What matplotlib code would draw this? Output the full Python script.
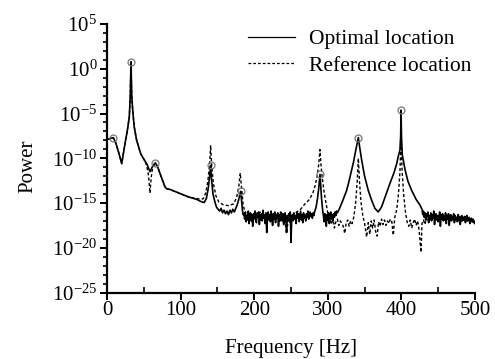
import numpy as np
import matplotlib
matplotlib.use("Agg")
import matplotlib.pyplot as plt
from matplotlib.ticker import FixedLocator, FuncFormatter, MultipleLocator, NullFormatter

plt.rcParams['font.family'] = ['Liberation Serif', 'DejaVu Serif']
plt.rcParams['mathtext.fontset'] = 'custom'
plt.rcParams['mathtext.rm'] = 'Liberation Serif'
plt.rcParams['mathtext.it'] = 'Liberation Serif'

# ---- Optimal location (solid) : frequency [Hz], log10(power) ----
opt_f_a = [0, 4, 8.6, 12, 16, 20, 24, 27.6, 30.3, 31.6, 32.6, 33.6, 34.9, 37, 40.3,
           45.8, 50, 53.9, 58.4, 62, 65.7, 69, 72, 78.8, 81, 86, 92, 98, 104, 110,
           116, 122, 128, 132, 135, 137.5, 139.5, 140.8, 142, 144, 147, 149, 151, 153,
           155, 157, 159, 161, 163, 165, 167, 169, 171, 173, 175, 177, 179, 180.6,
           181.6, 182.6, 184, 185]
opt_p_a = [-7.9, -7.8, -7.7, -8.3, -9.4, -10.6, -8.6, -6.9, -5.4, -3.0, 0.78, -3.0, -4.6,
           -6.5, -8.0, -9.5, -10.1, -10.6, -11.5, -10.9, -10.5, -11.0, -11.7, -13.2, -13.4,
           -13.5, -13.7, -13.9, -14.1, -14.3, -14.45, -14.6, -14.85, -14.95, -14.5, -13.4,
           -12.0, -10.8, -12.3, -14.0, -15.0, -15.5, -15.7, -15.9, -15.6, -16.1, -15.8,
           -16.2, -15.9, -16.3, -15.8, -16.1, -15.7, -16.0, -15.6, -15.2, -14.6, -14.0,
           -13.7, -14.5, -15.8, -16.3]
# noise floor 186..282 Hz (1 Hz steps)
opt_noise1 = [-16.2, -16.8, -16.0, -17.1, -16.4, -16.9, -15.9, -17.3, -16.5, -16.1,
              -17.0, -16.3, -17.6, -16.2, -16.7, -15.9, -16.8, -17.2, -16.1, -16.6,
              -16.0, -17.4, -16.3, -16.9, -16.2, -17.0, -15.8, -16.7, -16.4, -17.3,
              -16.1, -18.3, -16.5, -16.0, -16.9, -16.3, -17.1, -15.9, -16.6, -17.5,
              -16.2, -16.8, -16.0, -17.2, -16.4, -16.7, -16.1, -17.6, -16.3, -16.9,
              -16.0, -16.6, -17.0, -16.2, -17.4, -16.5, -16.1, -16.8, -18.3, -16.4,
              -16.9, -16.2, -17.1, -16.0, -19.4, -16.6, -16.3, -17.0, -16.1, -16.8,
              -16.4, -17.3, -16.0, -16.7, -16.2, -17.1, -16.5, -15.9, -16.9, -16.3,
              -17.2, -16.1, -16.7, -16.4, -17.0, -16.2, -16.6, -15.9, -16.8, -16.3,
              -16.0, -16.5, -16.2, -16.7, -16.1, -16.4, -16.0]
opt_f_b = [284, 286, 287.5, 288.7, 289.4, 290.2, 291.5, 293]
opt_p_b = [-15.5, -14.5, -13.5, -12.5, -11.8, -12.8, -14.5, -15.8]
# noise 294..313 Hz (1 Hz steps)
opt_noise2 = [-16.4, -17.1, -16.2, -16.8, -17.6, -16.3, -16.9, -16.1, -17.3, -16.5,
              -16.0, -16.8, -16.3, -17.0, -16.2, -16.6, -16.0, -16.4, -15.9, -16.1]
opt_f_c = [316, 320, 325.6, 329, 332.4, 335, 338, 340, 341.5, 343, 346, 350, 355, 360,
           364, 368.5, 373, 378, 384.5, 390, 393.6, 396, 398, 399, 399.5, 400.1, 401.2,
           405, 409, 414, 420, 425]
opt_p_c = [-15.6, -14.8, -13.6, -12.5, -11.3, -10.4, -9.1, -8.3, -7.69, -8.6, -10.2,
           -12.0, -13.6, -14.8, -15.6, -16.0, -15.45, -14.3, -12.8, -11.6, -10.6, -9.7,
           -9.1, -7.5, -4.63, -7.5, -9.6, -11.3, -12.6, -13.6, -14.6, -15.2]
# noise 428..500 Hz (1 Hz steps)
opt_noise3 = [-15.7, -16.3, -15.9, -16.6, -16.1, -16.9, -16.2, -16.5, -16.0, -17.2,
              -16.4, -16.8, -16.1, -17.0, -16.3, -16.7, -15.9, -17.4, -16.5, -16.2,
              -16.9, -16.4, -17.1, -16.6, -16.0, -17.6, -16.3, -16.8, -16.2, -17.0,
              -16.5, -16.9, -16.1, -17.3, -16.4, -16.7, -16.2, -17.5, -16.6, -16.3,
              -17.0, -16.5, -16.8, -16.2, -17.2, -16.4, -16.9, -16.6, -17.1, -16.3,
              -16.8, -16.5, -17.4, -16.7, -16.4, -17.0, -16.6, -16.9, -16.5, -17.2,
              -16.7, -16.4, -17.0, -16.8, -16.6, -17.3, -16.9, -16.7, -17.1, -16.8,
              -17.2, -17.0, -17.3]

# ---- Reference location (dashed) ----
ref_f_a = [0, 4, 8.6, 12, 16, 20, 24, 27.6, 30.3, 31.6, 32.6, 33.6, 34.9, 37, 40.3,
           45.8, 50, 53.9, 56.5, 58.4, 60, 62, 65.7, 69, 72, 78.8, 81, 86, 92, 98, 104,
           110, 116, 122, 128, 131, 134, 137, 139.5, 140.8, 142, 144.5, 148, 152, 158,
           165, 172, 176, 179, 181, 182.5, 185, 188]
ref_p_a = [-7.9, -7.8, -7.7, -8.3, -9.4, -10.6, -8.6, -6.9, -5.4, -3.0, 0.7, -3.0, -4.6,
           -6.5, -8.0, -9.5, -10.1, -10.8, -12.0, -13.9, -12.2, -11.0, -10.6, -11.0,
           -11.7, -13.2, -13.4, -13.5, -13.7, -13.9, -14.1, -14.3, -14.4, -14.5, -14.6,
           -14.5, -13.9, -12.6, -10.5, -8.55, -10.5, -12.8, -14.2, -14.9, -15.2, -15.3,
           -15.1, -14.4, -13.2, -11.65, -13.0, -15.2, -16.2]
ref_f_b = [190, 193, 196, 199, 202, 205, 208, 211, 214, 217, 220, 223, 226, 229, 232,
           235, 238, 241, 244, 247, 250, 254, 258, 262, 266, 270, 274, 277, 280, 283,
           285.5, 287.5, 289.4, 290.8, 292.5, 295, 298, 301]
ref_p_b = [-16.5, -16.1, -16.9, -16.3, -17.0, -16.4, -16.0, -16.8, -16.2, -17.1, -16.5,
           -16.3, -16.9, -16.1, -16.6, -17.2, -16.4, -16.7, -18.4, -16.3, -16.5, -16.2,
           -16.0, -15.8, -15.4, -15.0, -14.7, -14.3, -13.8, -13.0, -12.0, -10.8, -9.03,
           -10.8, -12.2, -13.8, -15.2, -16.6]
ref_f_c = [303, 305, 307, 309, 311, 313, 315, 317, 319, 321, 323, 325, 327, 329, 331,
           333, 335.5, 338, 340, 341.5, 343, 345, 347.5, 350, 352.8, 355, 357, 359, 361,
           363, 365, 367, 369, 371, 373, 375, 377, 379, 381, 383, 385, 387, 389, 391]
ref_p_c = [-16.9, -17.4, -16.6, -17.8, -17.1, -16.8, -17.5, -17.0, -17.3, -17.6, -18.4,
           -17.2, -16.9, -17.6, -17.0, -17.3, -16.5, -14.8, -12.5, -10.0, -12.5, -14.8,
           -16.4, -17.3, -18.8, -17.2, -18.5, -17.0, -17.8, -16.9, -18.2, -18.7, -17.1,
           -17.6, -16.8, -17.4, -16.9, -17.5, -17.0, -17.3, -16.8, -17.1, -18.6, -16.6]
ref_f_d = [393.5, 396, 398, 399.5, 401, 403, 405.5, 408, 410, 412, 414, 416, 418, 420,
           422, 424, 426.6, 428, 430, 432, 434, 436, 438, 440, 443, 446, 449, 452, 455,
           458, 461, 464, 467, 470, 473, 476, 479, 482, 485, 488, 491, 494, 497, 500]
ref_p_d = [-15.8, -14.0, -11.5, -8.0, -11.5, -14.0, -16.0, -17.2, -17.6, -16.9, -17.8,
           -17.2, -16.8, -17.5, -17.0, -18.0, -20.5, -17.3, -16.9, -17.4, -16.7, -17.1,
           -16.6, -16.9, -16.5, -16.8, -16.3, -17.0, -16.5, -16.9, -16.4, -17.1, -16.6,
           -16.9, -16.7, -17.1, -16.8, -17.0, -16.7, -17.2, -16.9, -17.1, -17.0, -17.3]

# ---- peak markers ----
peak_f = [8.6, 32.6, 65.7, 140.8, 181.6, 289.4, 341.5, 399.5]
peak_p = [-7.7, 0.78, -10.5, -10.8, -13.7, -11.8, -7.69, -4.63]

yticks_exp = [5, 0, -5, -10, -15, -20, -25]
xticks = [0, 100, 200, 300, 400, 500]

# assemble series
opt_f = np.concatenate([opt_f_a, np.arange(186, 283), opt_f_b, np.arange(294, 314),
                        opt_f_c, np.arange(428, 501)])
opt_p = np.concatenate([opt_p_a, opt_noise1, opt_p_b, opt_noise2, opt_p_c, opt_noise3])
ref_f = np.concatenate([ref_f_a, ref_f_b, ref_f_c, ref_f_d])
ref_p = np.concatenate([ref_p_a, ref_p_b, ref_p_c, ref_p_d])

fig = plt.figure(figsize=(4.95, 3.59), dpi=100)
ax = fig.add_axes([107/495, 1-292.5/359, 368/495, 268.5/359])

ax.plot(opt_f, 10.0**opt_p, color='black', lw=1.2, label='Optimal location')
ax.plot(ref_f, 10.0**ref_p, color='black', lw=1.0, ls=(0, (2.2, 1.6)),
        label='Reference location')
ax.plot(peak_f, 10.0**np.array(peak_p), ls='none', marker='o', ms=5,
        mfc='none', mec='#777777', mew=0.9)

ax.set_yscale('log')
ax.set_xlim(0, 500)
ax.set_ylim(1e-25, 1e5)
ax.yaxis.set_major_locator(FixedLocator([10.0**e for e in yticks_exp]))
ax.yaxis.set_minor_locator(FixedLocator([10.0**e for e in range(-25, 6)]))
ax.yaxis.set_major_formatter(FuncFormatter(
    lambda v, p: r'$\mathregular{10^{%d}}$' % int(round(np.log10(v)))))
ax.yaxis.set_minor_formatter(NullFormatter())
ax.set_xticks(xticks)
ax.xaxis.set_minor_locator(MultipleLocator(50))
ax.xaxis.set_minor_formatter(NullFormatter())

for s in ['top', 'right']:
    ax.spines[s].set_visible(False)
for s in ['left', 'bottom']:
    ax.spines[s].set_linewidth(1.6)

ax.tick_params(axis='y', which='major', direction='out', length=5, width=1.4,
               labelsize=15, pad=2)
ax.tick_params(axis='y', which='minor', direction='out', length=3, width=1.2)
ax.tick_params(axis='x', which='major', direction='out', length=5, width=1.4,
               labelsize=15, pad=1)
ax.tick_params(axis='x', which='minor', direction='in', length=4, width=1.2)

ax.set_xlabel('Frequency [Hz]', fontsize=15, labelpad=14)
ax.set_ylabel('Power', fontsize=15)
ax.yaxis.set_label_coords(-0.19, 0.47)

leg = fig.legend(loc='upper left', bbox_to_anchor=(248/495, 1-29/359),
                 frameon=False, fontsize=15.5, handlelength=2.2, handletextpad=0.65,
                 borderpad=0, borderaxespad=0, labelspacing=0.3)
for h in leg.legend_handles:
    h.set_linewidth(0.9)

fig.savefig('out.png', dpi=100)
